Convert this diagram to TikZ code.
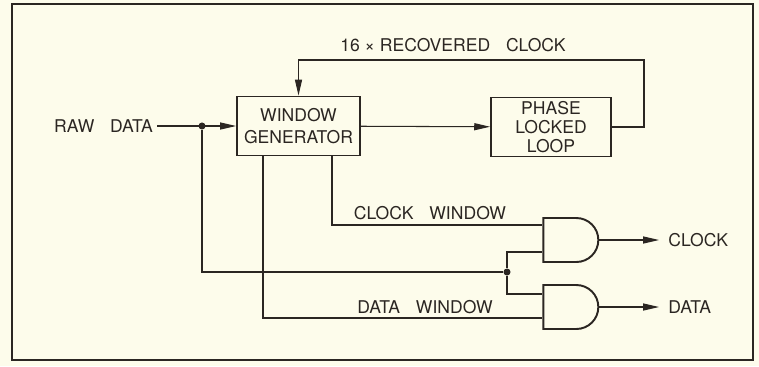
\documentclass[tikz,border=0pt]{standalone}
\usepackage{fontspec}
\setmainfont{TeX Gyre Heros}
\usetikzlibrary{arrows.meta,positioning,shapes.gates.logic.US}
\definecolor{paper}{HTML}{FDFCEB}
\definecolor{ink}{HTML}{2B2622}
\newcommand{\wsp}{\hspace{0.9em}}

\begin{document}
\begin{tikzpicture}
[x=0.02cm,y=-0.02cm,>={Triangle[length=9pt,width=4pt]},
  line width=0.6pt,color=ink,font=\fontsize{10}{12.5}\selectfont,
  block node/.style={draw,line width=1.1pt,align=center,inner sep=0pt},
  gate node/.style={and gate US,draw,line width=1.1pt,logic gate inputs=nn,
    inner sep=0pt,minimum width=1.08cm,minimum height=0.88cm},
  join dot/.style={circle,fill=ink,inner sep=0pt,minimum size=4pt},
  out label/.style={anchor=west,inner sep=5pt}]

  \fill[paper] (0,0) rectangle (759,366);
  \useasboundingbox (0,0) rectangle (759,366);
  \draw[line width=1.2pt] (12,4) rectangle (753,360);

  \node (raw) [anchor=east,inner sep=2pt] at 	(157,126) 	{RAW\wsp DATA};
  \node [block node,minimum width=2.46cm,minimum height=1.18cm] (wg) at 	(298.5,126) 	{WINDOW\\GENERATOR};
  \node [block node,minimum width=2.4cm,minimum height=1.18cm,font=\fontsize{10}{10.8}\selectfont] (pll) at 	(551,127) 	{PHASE\\LOCKED\\LOOP};
  \node (rclk) at 			(453,45) 	{16 × RECOVERED\wsp CLOCK};
  \node [gate node] (and1) at 		(569,240) 	{};
  \node [gate node] (and2) at 		(569,307) 	{};
  \node (cwin) at 			(430,213) 	{CLOCK\wsp WINDOW};
  \node (dwin) at 			(425,307) 	{DATA\wsp WINDOW};
  \node [out label] (clk) at 		(659,240) 	{CLOCK};
  \node [out label] (dat) at 		(659,307) 	{DATA};

  \node [join dot] (split1) at 		(202,126) 	{};
  \node [join dot] (split2) at 		(507,272) 	{};
  \coordinate (fb) at 			(644,60);
  \coordinate (cwx) at 			(332,0);
  \coordinate (dwx) at 			(263,0);

  \foreach \from/\to in {raw/wg,wg/pll,and1.output/clk,and2.output/dat}
    \draw[->] (\from) -- (\to);

  \draw[->] (pll.east) -| (fb) -| (wg.north);
  \draw (wg.south -| cwx) |- ([yshift=0.3cm]and1.west);
  \draw (wg.south -| dwx) |- ([yshift=-0.22cm]and2.west);
  \draw (split1) |- (split2);
  \draw (split2) |- ([yshift=-0.24cm]and1.west);
  \draw (split2) |- ([yshift=0.26cm]and2.west);

\end{tikzpicture}
\end{document}
